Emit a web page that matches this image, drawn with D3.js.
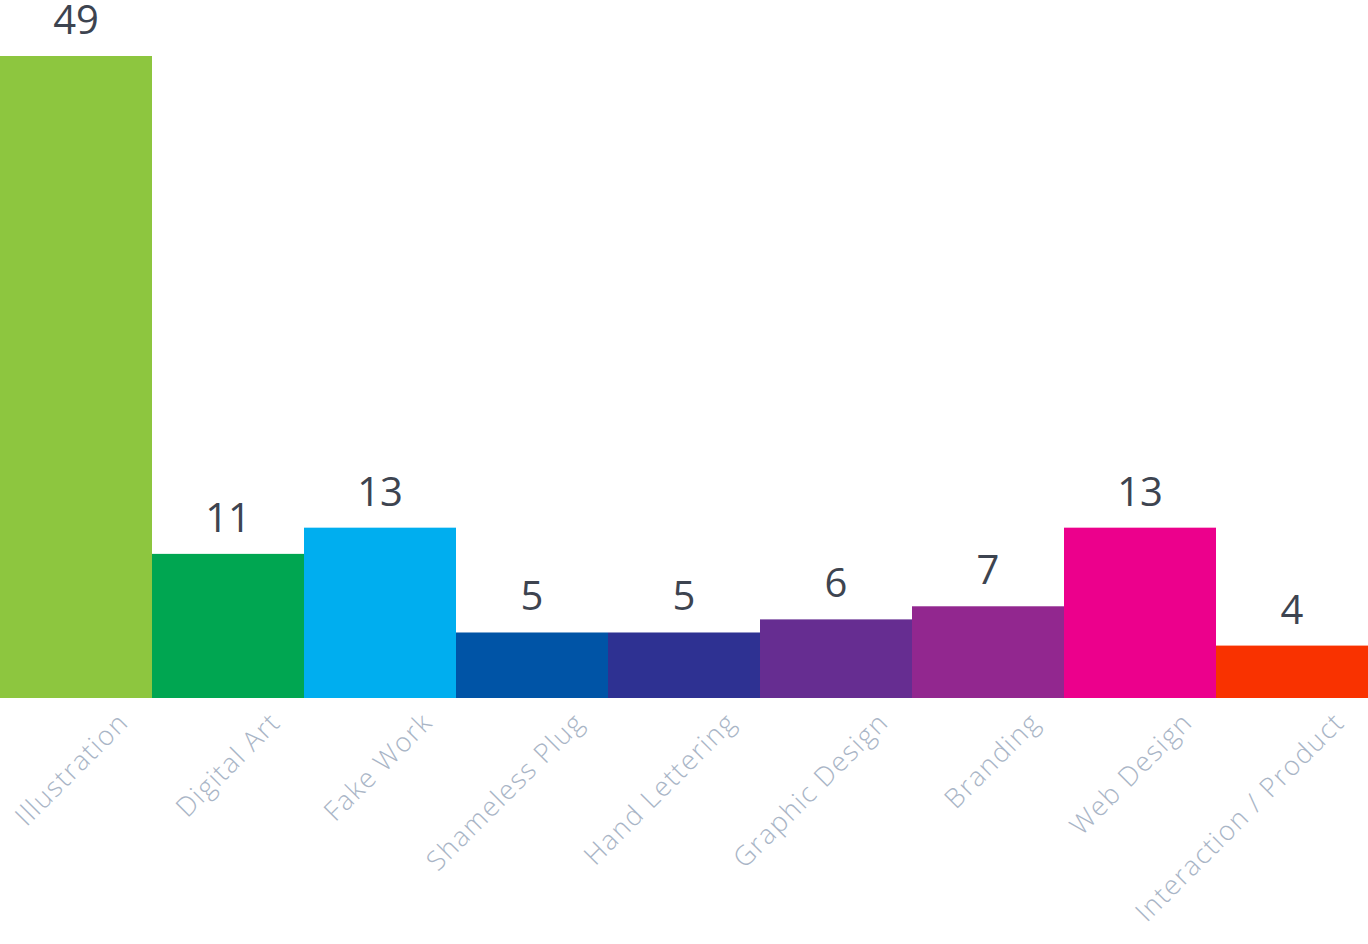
<!DOCTYPE html><html><head><meta charset="utf-8"><script src="https://cdn.jsdelivr.net/npm/d3@7"></script>
<style>body{margin:0;background:#fff}</style></head><body><svg id="c" width="1368" height="944"></svg><script>
const categories=["Illustration","Digital Art","Fake Work","Shameless Plug","Hand Lettering","Graphic Design","Branding","Web Design","Interaction / Product"];
const values=[49,11,13,5,5,6,7,13,4];
const colors=["#8dc63f","#00a651","#00aeef","#0054a6","#2e3192","#662d91","#92278f","#ec008c","#f93200"];
const svg=d3.select("#c");
const x=d3.scaleBand().domain(categories).range([0,1368]).padding(0);
const y=d3.scaleLinear().domain([0,49]).range([698,56]);
svg.selectAll("rect").data(values).join("rect").attr("x",(d,i)=>x(categories[i])).attr("width",x.bandwidth())
 .attr("y",d=>y(d)).attr("height",d=>698-y(d)).attr("fill",(d,i)=>colors[i]);
svg.selectAll("text.v").data(values).join("text").attr("class","v").attr("x",(d,i)=>x(categories[i])+x.bandwidth()/2)
 .attr("y",d=>y(d)-22).attr("text-anchor","middle").attr("font-family","'Open Sans', sans-serif").attr("font-size",40).attr("fill","#3d4450").text(d=>d);
svg.selectAll("text.c").data(categories).join("text").attr("class","c")
 .attr("transform",d=>`translate(${x(d)+x.bandwidth()/2+54},724) rotate(-45)`)
 .attr("text-anchor","end").attr("font-family","'Open Sans', sans-serif").attr("font-weight",300).attr("font-size",27).attr("letter-spacing",1.5).attr("fill","#a9b5c6").text(d=>d);
</script></body></html>
